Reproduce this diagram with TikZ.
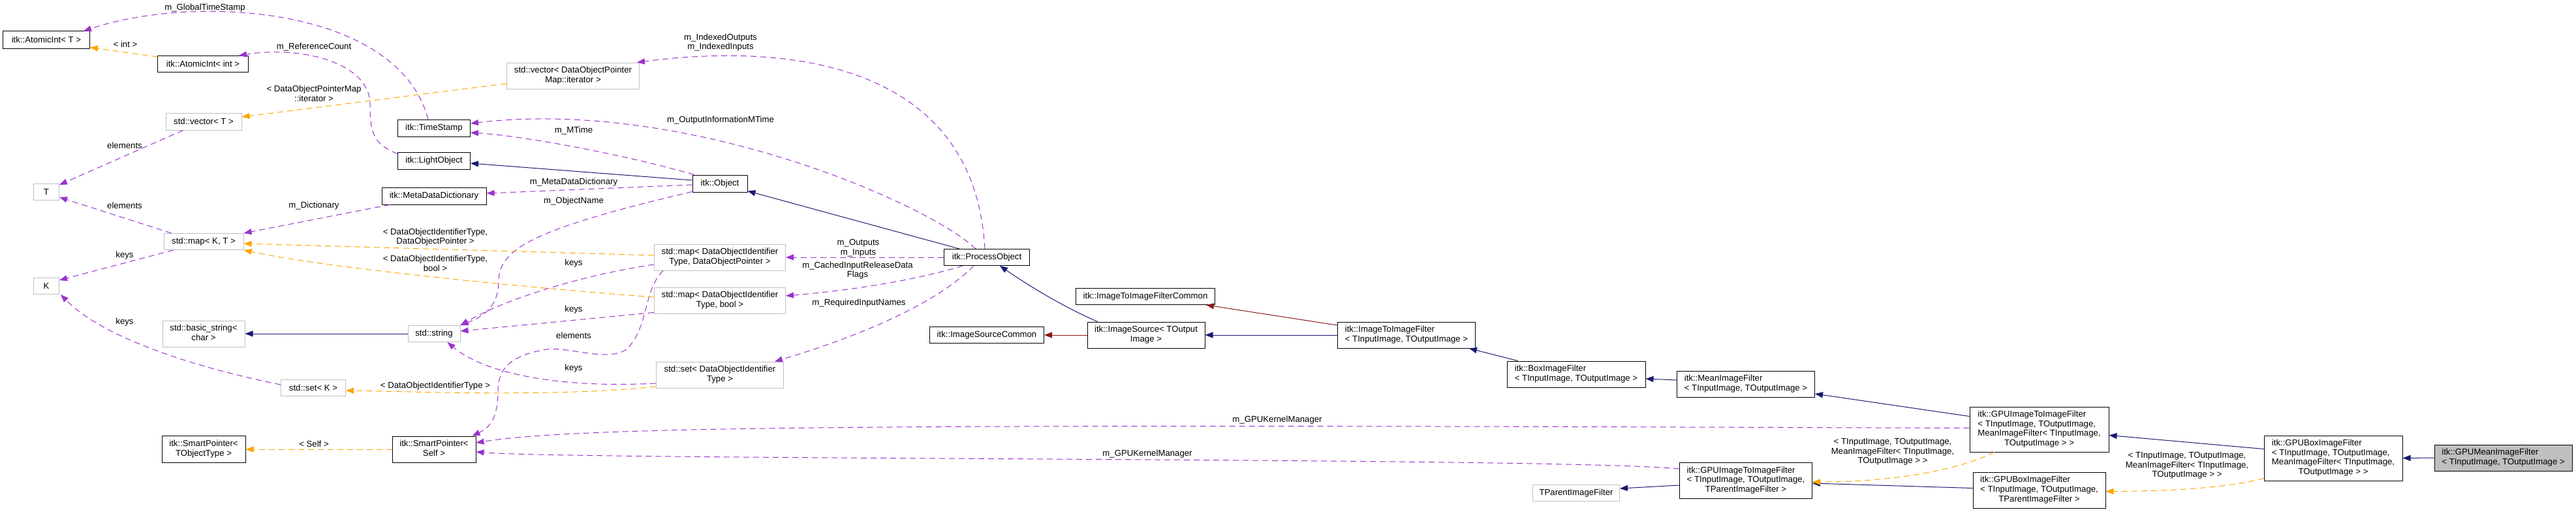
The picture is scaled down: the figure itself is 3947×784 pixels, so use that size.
\documentclass[tikz,border=0pt]{standalone}
\usepackage{fontspec}
\setmainfont{Liberation Sans}
\usetikzlibrary{arrows.meta, calc}
\definecolor{navyedge}{HTML}{191970}
\definecolor{rededge}{HTML}{8B1A1A}
\definecolor{memberedge}{HTML}{9A32CD}
\definecolor{tmpledge}{HTML}{FFA500}
\definecolor{greybox}{HTML}{BFBFBF}
% class box text: all lines left, last line centred
\newcommand{\clsname}[2]{\begin{tabular}{@{}l@{}}#1\\\multicolumn{1}{@{}c@{}}{#2}\end{tabular}}

\begin{document}
\begin{tikzpicture}[x=1pt, y=-1pt,
  font=\fontsize{13.2}{14.7}\selectfont,
  cls/.style={draw=black, line width=1pt, inner sep=0pt},
  ext/.style={draw=greybox, line width=1pt, inner sep=0pt},
  cur/.style={cls, fill=greybox},
  lbl/.style={inner sep=0pt, align=center},
  inh/.style={navyedge, line width=1pt, -{Triangle[length=12pt,width=9pt]}},
  prot/.style={inh, rededge},
  member/.style={memberedge, line width=1pt, dash pattern=on 9pt off 6pt, -{Triangle[length=12pt,width=9pt]}},
  tmpl/.style={member, tmpledge}]
  \useasboundingbox (0,0) rectangle (3947,784);
  % --- Left columns ---
  \node[cls, minimum width=133pt, minimum height=26pt] (ati) at (71,61) {itk::AtomicInt< T >};
  \node[cls, minimum width=139pt, minimum height=25pt] (atint) at (311,98) {itk::AtomicInt< int >};
  \node[ext, minimum width=116pt, minimum height=26pt] (vect) at (312,186) {std::vector< T >};
  \node[ext, minimum width=39pt, minimum height=25pt] (tt) at (71,294) {T};
  \node[ext, minimum width=122pt, minimum height=25pt] (mapkt) at (312,370) {std::map< K, T >};
  \node[ext, minimum width=39pt, minimum height=25pt] (kk) at (71,438) {K};
  \node[ext, minimum width=126pt, minimum height=40pt] (bstr) at (312,511) {\clsname{std::basic\_string<}{char >}};
  \node[ext, minimum width=99pt, minimum height=25pt] (setk) at (480,594) {std::set< K >};
  \node[cls, minimum width=128pt, minimum height=41pt] (sptr) at (312,688) {\clsname{itk::SmartPointer<}{TObjectType >}};
  \node[cls, minimum width=111pt, minimum height=26pt] (stamp) at (665,196) {itk::TimeStamp};
  \node[cls, minimum width=111pt, minimum height=26pt] (light) at (665,246) {itk::LightObject};
  \node[cls, minimum width=160pt, minimum height=26pt] (mdd) at (665,300) {itk::MetaDataDictionary};
  \node[ext, minimum width=80pt, minimum height=25pt] (str) at (665,511) {std::string};
  \node[cls, minimum width=128pt, minimum height=40pt] (sps) at (665,688) {\clsname{itk::SmartPointer<}{Self >}};
  % --- Middle ---
  \node[ext, minimum width=203pt, minimum height=40pt] (vecit) at (878,116) {\clsname{std::vector< DataObjectPointer}{Map::iterator >}};
  \node[cls, minimum width=84pt, minimum height=26pt] (obj) at (1103,281) {itk::Object};
  \node[ext, minimum width=201pt, minimum height=40pt] (mapdop) at (1103,394) {\clsname{std::map< DataObjectIdentifier}{Type, DataObjectPointer >}};
  \node[ext, minimum width=201pt, minimum height=40pt] (mapbool) at (1103,460) {\clsname{std::map< DataObjectIdentifier}{Type, bool >}};
  \node[ext, minimum width=195pt, minimum height=40pt] (setid) at (1103,574) {\clsname{std::set< DataObjectIdentifier}{Type >}};
  \node[cls, minimum width=131pt, minimum height=25pt] (proc) at (1512,394) {itk::ProcessObject};
  \node[cls, minimum width=175pt, minimum height=25pt] (srccom) at (1512,513) {itk::ImageSourceCommon};
  \node[cls, minimum width=213pt, minimum height=25pt] (itifc) at (1755,454) {itk::ImageToImageFilterCommon};
  \node[cls, minimum width=180pt, minimum height=40pt] (src) at (1756,513) {\clsname{itk::ImageSource< TOutput}{Image >}};
  % --- Filter chain ---
  \node[cls, minimum width=211pt, minimum height=40pt] (itif) at (2155,513) {\clsname{itk::ImageToImageFilter}{< TInputImage, TOutputImage >}};
  \node[cls, minimum width=212pt, minimum height=40pt] (boxf) at (2415,573) {\clsname{itk::BoxImageFilter}{< TInputImage, TOutputImage >}};
  \node[ext, minimum width=133pt, minimum height=25pt] (tparent) at (2415,755) {TParentImageFilter};
  \node[cls, minimum width=211pt, minimum height=40pt] (mean) at (2675,588) {\clsname{itk::MeanImageFilter}{< TInputImage, TOutputImage >}};
  \node[cls, minimum width=203pt, minimum height=55pt] (gpuitip) at (2675,736) {\clsname{itk::GPUImageToImageFilter\\< TInputImage, TOutputImage,}{TParentImageFilter >}};
  \node[cls, minimum width=213pt, minimum height=69pt] (gpuitim) at (3124.5,657.5) {\clsname{itk::GPUImageToImageFilter\\< TInputImage, TOutputImage,\\MeanImageFilter< TInputImage,}{TOutputImage > >}};
  \node[cls, minimum width=203pt, minimum height=55pt] (gpuboxp) at (3124.5,750.5) {\clsname{itk::GPUBoxImageFilter\\< TInputImage, TOutputImage,}{TParentImageFilter >}};
  \node[cls, minimum width=212pt, minimum height=69pt] (gpuboxm) at (3575,701.5) {\clsname{itk::GPUBoxImageFilter\\< TInputImage, TOutputImage,\\MeanImageFilter< TInputImage,}{TOutputImage > >}};
  \node[cur, minimum width=211pt, minimum height=40pt] (gpumean) at (3835.5,701) {\clsname{itk::GPUMeanImageFilter}{< TInputImage, TOutputImage >}};
  % --- Inheritance ---
  \draw[inh] ($(obj.west)+(0,-5)$) -- ($(light.east)+(0,4)$);
  \draw[inh] ($(proc.north west)+(24,0)$) -- ($(obj.south east)+(0,-2)$);
  \draw[inh] ($(src.north west)+(16,0)$) .. controls (1630,470) and (1580,440) .. ($(proc.south)+(20,0)$);
  \draw[prot] (src.west) -- (srccom.east);
  \draw[inh] (itif.west) -- (src.east);
  \draw[prot] ($(itif.west)+(0,-15)$) -- ($(itifc.south east)+(-14,0)$);
  \draw[inh] ($(boxf.north west)+(17,0)$) -- ($(itif.south east)+(-10,0)$);
  \draw[inh] ($(mean.west)+(0,-6)$) -- ($(boxf.east)+(0,7)$);
  \draw[inh] ($(gpuitim.west)+(0,-20)$) -- ($(mean.east)+(0,15)$);
  \draw[inh] ($(gpuitip.west)+(0,7)$) -- ($(tparent.east)+(0,-7)$);
  \draw[inh] ($(gpuboxp.west)+(0,-3)$) -- ($(gpuitip.east)+(0,4)$);
  \draw[inh] ($(gpuboxm.west)+(0,-14)$) -- ($(gpuitim.east)+(0,9)$);
  \draw[inh] (gpumean.west) -- (gpuboxm.east);
  \draw[inh] (str.west) -- (bstr.east);
  % --- Members ---
  \draw[member] ($(stamp.north)+(-9,0)$) .. controls (610,10) and (300,-10) .. ($(ati.north east)+(-10,0)$);
  \draw[member] ($(light.north west)+(0,3)$) .. controls (570,220) and (567,200) .. (567,160)
    .. controls (567,95) and (460,70) .. ($(atint.north east)+(-15,0)$);
  \draw[member] ($(proc.north)+(-3,0)$) .. controls (1495,120) and (1250,60) .. ($(vecit.north east)+(-4,0)$);
  \draw[member] ($(proc.north)+(-17,0)$) .. controls (1420,310) and (1050,150) .. ($(stamp.east)+(0,-7)$);
  \draw[member] ($(obj.north west)+(3,0)$) .. controls (950,235) and (800,208) .. ($(stamp.east)+(0,7)$);
  \draw[member] ($(obj.west)+(0,2)$) -- ($(mdd.east)+(0,-4)$);
  \draw[member] ($(obj.south west)+(0,-1)$) .. controls (820,350) and (765,380) .. (764,430)
    .. controls (764,470) and (740,485) .. (str.north east);
  \draw[member] ($(mdd.south west)+(13,0)$) -- (mapkt.north east);
  \draw[member] (proc.west) -- (mapdop.east);
  \draw[member] ($(proc.south west)+(29,0)$) .. controls (1400,430) and (1300,445) .. ($(mapbool.east)+(0,-7)$);
  \draw[member] ($(proc.south)+(-20,0)$) .. controls (1430,470) and (1300,520) .. ($(setid.north east)+(-14,0)$);
  \draw[member] ($(mapdop.west)+(0,11)$) .. controls (900,420) and (780,455) .. (str.north east);
  \draw[member] ($(mapbool.south west)+(0,-2)$) -- ($(str.east)+(0,-4)$);
  \draw[member] ($(setid.west)+(0,13)$) .. controls (850,595) and (740,570) .. ($(str.south east)+(-20,0)$);
  \draw[member] ($(mapdop.south west)+(14,0)$) .. controls (985,445) and (995,500) .. (960,535)
    .. controls (930,555) and (870,530) .. (837,535) .. controls (780,545) and (763,565) .. (763,600)
    .. controls (763,640) and (750,655) .. ($(sps.north east)+(-6,0)$);
  \draw[member] ($(vect.south west)+(27,0)$) -- ($(tt.north east)+(0,2)$);
  \draw[member] ($(mapkt.north west)+(12,0)$) -- ($(tt.south east)+(0,-5)$);
  \draw[member] ($(mapkt.south west)+(15,0)$) -- ($(kk.north east)+(0,4)$);
  \draw[member] ($(setk.west)+(0,-5)$) .. controls (310,565) and (160,520) .. ($(kk.south east)+(2,0)$);
  \draw[member] ($(gpuitim.west)+(0,-2)$) .. controls (1500,650) and (900,650) .. ($(sps.east)+(0,-10)$);
  \draw[member] ($(gpuitip.north west)+(0,10)$) .. controls (2400,700) and (900,705) .. ($(sps.east)+(0,4)$);
  % --- Template instances ---
  \draw[tmpl] ($(atint.north west)+(0,2)$) -- ($(ati.south east)+(0,-2)$);
  \draw[tmpl] ($(vecit.west)+(0,12)$) -- ($(vect.east)+(0,-7)$);
  \draw[tmpl] ($(mapdop.west)+(0,-3)$) -- ($(mapkt.east)+(0,3)$);
  \draw[tmpl] ($(mapbool.west)+(0,-5)$) .. controls (800,440) and (500,410) .. (mapkt.south east);
  \draw[tmpl] ($(setid.west)+(0,18)$) .. controls (850,608) and (650,600) .. ($(setk.east)+(0,4)$);
  \draw[tmpl] (sps.west) -- (sptr.east);
  \draw[tmpl] ($(gpuitim.south west)+(38,0)$) .. controls (3000,720) and (2900,738) .. ($(gpuitip.east)+(0,2)$);
  \draw[tmpl] ($(gpuboxm.south west)+(0,-4)$) .. controls (3400,750) and (3300,752) .. ($(gpuboxp.east)+(0,2)$);
  % --- Edge labels ---
  \node[lbl] (lglobal) at (314,12) {m\_GlobalTimeStamp};
  \node[lbl] (lint) at (192,68) {< int >};
  \node[lbl] (lrefcnt) at (481,72) {m\_ReferenceCount};
  \node[lbl] (lmapit) at (481,143) {< DataObjectPointerMap\\::iterator >};
  \node[lbl] (lindexed) at (1104,65) {m\_IndexedOutputs\\m\_IndexedInputs};
  \node[lbl] (loutinfo) at (1104,184) {m\_OutputInformationMTime};
  \node[lbl] (lmtime) at (879,200) {m\_MTime};
  \node[lbl] (lelem1) at (191,223) {elements};
  \node[lbl] (lmdd) at (879,279) {m\_MetaDataDictionary};
  \node[lbl] (lobjname) at (879,308) {m\_ObjectName};
  \node[lbl] (ldict) at (481,315) {m\_Dictionary};
  \node[lbl] (lelem2) at (191,315) {elements};
  \node[lbl] (lkeys1) at (191,391) {keys};
  \node[lbl] (lpair1) at (667,363) {< DataObjectIdentifierType,\\DataObjectPointer >};
  \node[lbl] (lpair2) at (667,403) {< DataObjectIdentifierType,\\bool >};
  \node[lbl] (loutputs) at (1315,380) {m\_Outputs\\m\_Inputs};
  \node[lbl] (lkeys2) at (879,403) {keys};
  \node[lbl] (lcached) at (1314,414) {m\_CachedInputReleaseData\\Flags};
  \node[lbl] (lreq) at (1316,464) {m\_RequiredInputNames};
  \node[lbl] (lkeys3) at (879,474) {keys};
  \node[lbl] (lkeys4) at (191,493) {keys};
  \node[lbl] (lelem3) at (879,514) {elements};
  \node[lbl] (lkeys5) at (879,564) {keys};
  \node[lbl] (lset) at (667,591) {< DataObjectIdentifierType >};
  \node[lbl] (lgpu1) at (1957,643) {m\_GPUKernelManager};
  \node[lbl] (lself) at (481,680) {< Self >};
  \node[lbl] (lgpu2) at (1758,695) {m\_GPUKernelManager};
  \node[lbl] (ltmpl1) at (2900,692) {< TInputImage, TOutputImage,\\MeanImageFilter< TInputImage,\\TOutputImage > >};
  \node[lbl] (ltmpl2) at (3351,713) {< TInputImage, TOutputImage,\\MeanImageFilter< TInputImage,\\TOutputImage > >};
\end{tikzpicture}
\end{document}
